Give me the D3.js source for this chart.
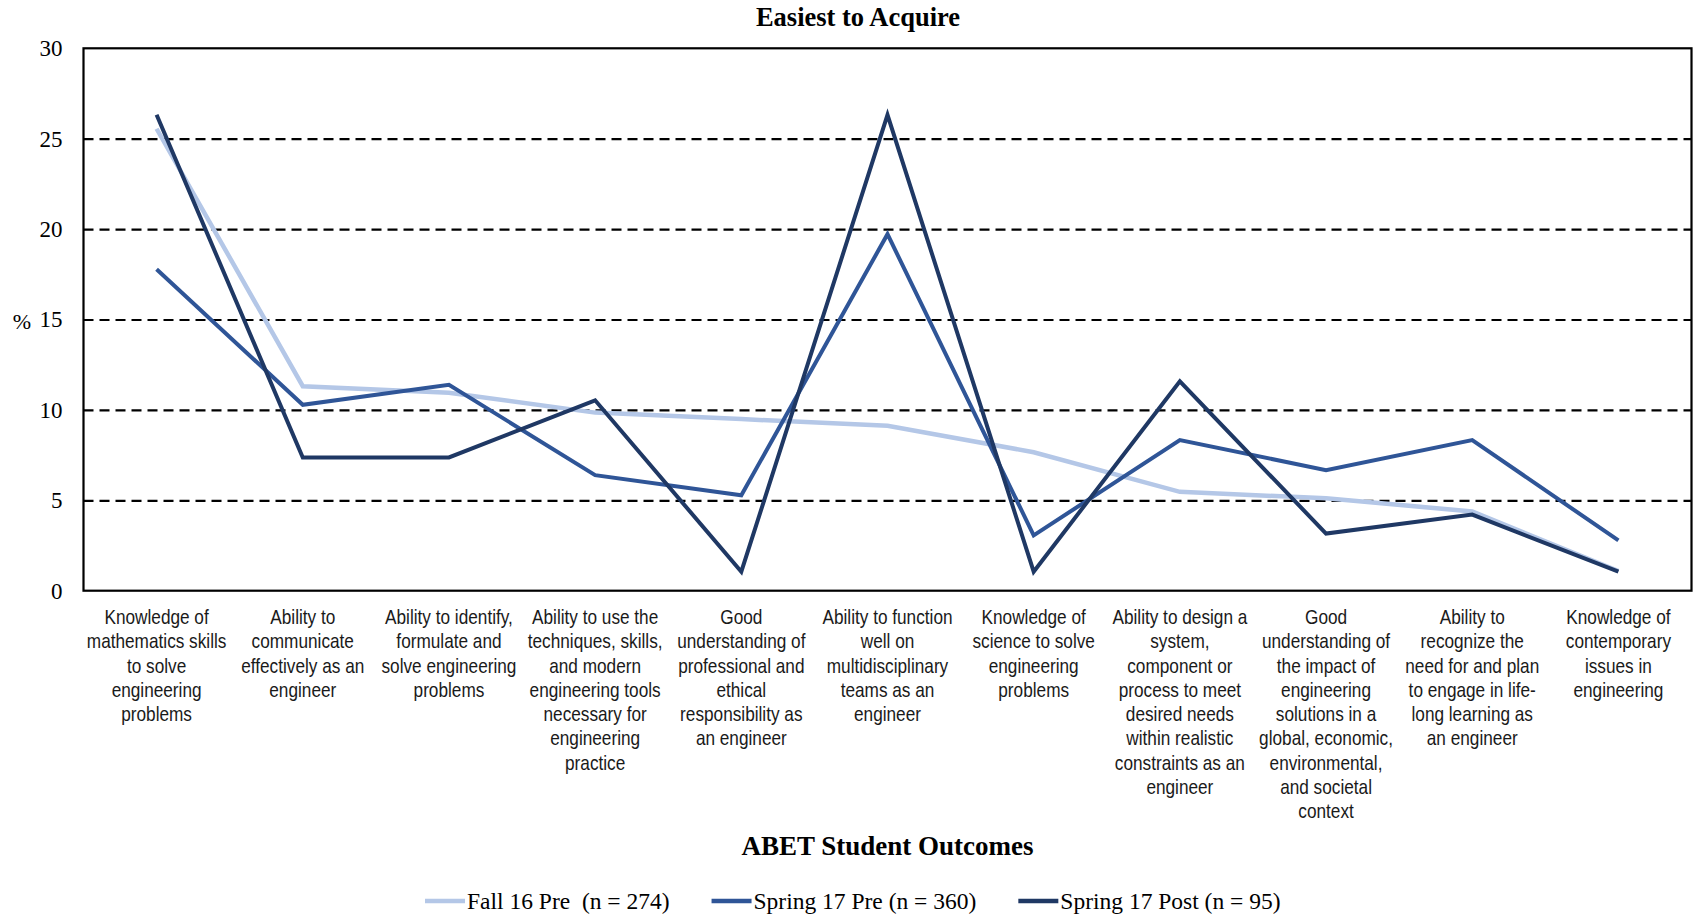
<!DOCTYPE html>
<html>
<head>
<meta charset="utf-8">
<script src="https://cdn.jsdelivr.net/npm/d3@7"></script>
<style>
  html, body { margin: 0; padding: 0; background: #fff; }
  svg { display: block; }
</style>
</head>
<body>
<svg id="chart" width="1695" height="918"></svg>
<script>
// ABET student outcomes, each split into the lines shown under the axis
const outcomes = [
  ["Knowledge of", "mathematics skills", "to solve", "engineering", "problems"],
  ["Ability to", "communicate", "effectively as an", "engineer"],
  ["Ability to identify,", "formulate and", "solve engineering", "problems"],
  ["Ability to use the", "techniques, skills,", "and modern", "engineering tools", "necessary for", "engineering", "practice"],
  ["Good", "understanding of", "professional and", "ethical", "responsibility as", "an engineer"],
  ["Ability to function", "well on", "multidisciplinary", "teams as an", "engineer"],
  ["Knowledge of", "science to solve", "engineering", "problems"],
  ["Ability to design a", "system,", "component or", "process to meet", "desired needs", "within realistic", "constraints as an", "engineer"],
  ["Good", "understanding of", "the impact of", "engineering", "solutions in a", "global, economic,", "environmental,", "and societal", "context"],
  ["Ability to", "recognize the", "need for and plan", "to engage in life-", "long learning as", "an engineer"],
  ["Knowledge of", "contemporary", "issues in", "engineering"]
];

// Percent of respondents naming each outcome as easiest to acquire
const fall16Pre   = [25.55, 11.31, 10.95, 9.85, 9.49, 9.12, 7.66, 5.47, 5.11, 4.38, 1.09];
const spring17Pre = [17.78, 10.28, 11.39, 6.39, 5.28, 19.72, 3.06, 8.33, 6.67, 8.33, 2.78];
const spring17Post = [26.32, 7.37, 7.37, 10.53, 1.05, 26.32, 1.05, 11.58, 3.16, 4.21, 1.05];

const seriesNames = ["Fall 16 Pre  (n = 274)", "Spring 17 Pre (n = 360)", "Spring 17 Post (n = 95)"];
const yTicks = [0, 5, 10, 15, 20, 25, 30];
const gridTicks = [5, 10, 15, 20, 25];

const chartTitle = "Easiest to Acquire";
const xTitle = "ABET Student Outcomes";
const yTitle = "%";

const series = [
  { name: seriesNames[0], values: fall16Pre,    color: "#b4c7e7", width: 4.5 },
  { name: seriesNames[1], values: spring17Pre,  color: "#2f5597", width: 4 },
  { name: seriesNames[2], values: spring17Post, color: "#1f3864", width: 4 }
];

const svg = d3.select("#chart");
const plot = { left: 83.5, right: 1691.5, top: 48.3, bottom: 590.7 };
const serif = "'Liberation Serif', 'Times New Roman', serif";

// Pick a condensed sans for the category labels, or squeeze a regular one
function measure(family, size, str) {
  const t = svg.append("text").attr("font-family", family).attr("font-size", size).text(str);
  const w = t.node().getComputedTextLength();
  t.remove();
  return w;
}
const probe = "Knowledge of mathematics";
const narrowW = measure("'Liberation Sans Narrow'", 21, probe);
const regularW = measure("'Liberation Sans'", 21, probe);
const hasNarrow = narrowW < regularW * 0.9;
const labelFamily = hasNarrow ? "'Liberation Sans Narrow', 'Arial Narrow', sans-serif" : "'Liberation Sans', Arial, sans-serif";
const labelSqueeze = hasNarrow ? 1 : 0.82;

const x = d3.scaleBand().domain(d3.range(outcomes.length)).range([plot.left, plot.right]);
const cx = i => x(i) + x.bandwidth() / 2;
const y = d3.scaleLinear().domain([0, 30]).range([plot.bottom, plot.top]);

// Dashed horizontal gridlines
svg.append("g")
  .attr("transform", `translate(${plot.left},0)`)
  .call(d3.axisLeft(y).tickValues(gridTicks).tickSize(-(plot.right - plot.left)).tickFormat(""))
  .call(g => g.select(".domain").remove())
  .call(g => g.selectAll(".tick line")
    .attr("stroke", "#000").attr("stroke-width", 2.2).attr("stroke-dasharray", "10,6"));

// Y tick labels
svg.append("g")
  .attr("transform", `translate(${plot.left},0)`)
  .call(d3.axisLeft(y).tickValues(yTicks).tickSize(0).tickPadding(21))
  .call(g => g.select(".domain").remove())
  .call(g => g.selectAll(".tick text")
    .attr("font-family", serif).attr("font-size", 23).attr("fill", "#000"));

// Series lines
const line = d3.line().x((d, i) => cx(i)).y(d => y(d));
svg.append("g").selectAll("path")
  .data(series)
  .join("path")
  .attr("d", d => line(d.values))
  .attr("fill", "none")
  .attr("stroke", d => d.color)
  .attr("stroke-width", d => d.width)
  .attr("stroke-linejoin", "miter")
  .attr("stroke-linecap", "butt");

// Plot frame
svg.append("rect")
  .attr("x", plot.left).attr("y", plot.top)
  .attr("width", plot.right - plot.left).attr("height", plot.bottom - plot.top)
  .attr("fill", "none").attr("stroke", "#000").attr("stroke-width", 2.2);

// Category labels below the axis
const xAxis = svg.append("g")
  .attr("transform", `translate(0,${plot.bottom})`)
  .call(d3.axisBottom(x).tickSize(0).tickFormat(""))
  .call(g => g.select(".domain").remove());
xAxis.selectAll(".tick").each(function (i) {
  const t = d3.select(this).select("text")
    .attr("font-family", labelFamily).attr("font-size", 21).attr("fill", "#1a1a1a")
    .attr("text-anchor", "middle")
    .attr("y", 0).attr("dy", null)
    .attr("transform", `translate(0,33.5) scale(${labelSqueeze},1)`);
  t.selectAll("tspan")
    .data(outcomes[i])
    .join("tspan")
    .attr("x", 0)
    .attr("y", (d, k) => k * 24.25)
    .text(d => d);
});

// Titles
svg.append("text")
  .attr("x", 858).attr("y", 26)
  .attr("text-anchor", "middle")
  .attr("font-family", serif).attr("font-weight", "bold").attr("font-size", 26.5)
  .text(chartTitle);

svg.append("text")
  .attr("x", (plot.left + plot.right) / 2).attr("y", 855)
  .attr("text-anchor", "middle")
  .attr("font-family", serif).attr("font-weight", "bold").attr("font-size", 27)
  .text(xTitle);

svg.append("text")
  .attr("x", 22).attr("y", y(15)).attr("dy", "0.42em")
  .attr("text-anchor", "middle")
  .attr("font-family", serif).attr("font-size", 22)
  .text(yTitle);

// Legend
const legend = svg.append("g").attr("transform", "translate(425,901)");
let lx = 0;
series.forEach(s => {
  const g = legend.append("g").attr("transform", `translate(${lx},0)`);
  g.append("line")
    .attr("x1", 0).attr("x2", 40).attr("y1", 0).attr("y2", 0)
    .attr("stroke", s.color).attr("stroke-width", 4.5);
  const t = g.append("text")
    .attr("x", 42).attr("y", 0).attr("dy", "0.33em")
    .attr("font-family", serif).attr("font-size", 23.5).attr("fill", "#000")
    .attr("xml:space", "preserve").style("white-space", "pre")
    .text(s.name);
  lx += 42 + t.node().getComputedTextLength() + 42;
});
</script>
</body>
</html>
